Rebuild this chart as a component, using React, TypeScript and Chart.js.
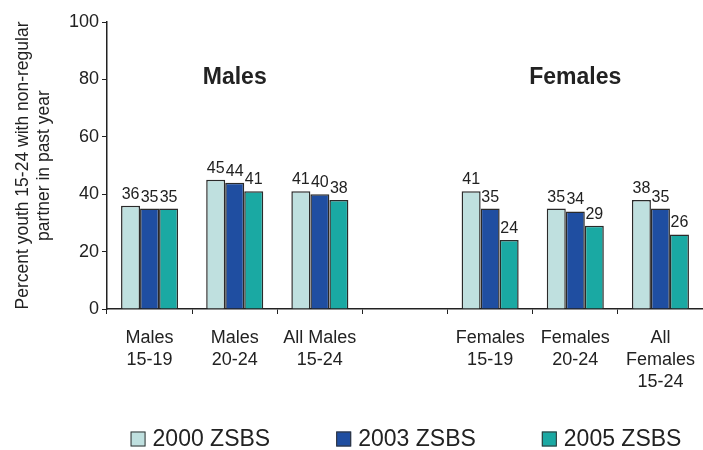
import React, { useEffect, useRef } from "react";
import { Chart, registerables } from "chart.js";

Chart.register(...registerables);

const categories: string[][] = [
  ["Males", "15-19"],
  ["Males", "20-24"],
  ["All Males", "15-24"],
  [""],
  ["Females", "15-19"],
  ["Females", "20-24"],
  ["All", "Females", "15-24"],
];

const series2000: (number | null)[] = [36, 45, 41, null, 41, 35, 38];
const series2003: (number | null)[] = [35, 44, 40, null, 35, 34, 35];
const series2005: (number | null)[] = [35, 41, 38, null, 24, 29, 26];

const seriesNames = ["2000 ZSBS", "2003 ZSBS", "2005 ZSBS"];
const seriesColors = ["#bfe0df", "#1f4ea1", "#1aa9a3"];

const groupLabels = [
  { text: "Males", category: 1, value: 80 },
  { text: "Females", category: 5, value: 80 },
];

const yTicks = [0, 20, 40, 60, 80, 100];
const yTitle = ["Percent youth 15-24 with non-regular", "partner in past year"];

const FONT = "'Liberation Sans', Arial, sans-serif";
const TEXT = "#222222";

const valueLabelPlugin = {
  id: "valueLabels",
  afterDatasetsDraw(chart: any) {
    const ctx = chart.ctx;
    ctx.save();
    ctx.font = `16px ${FONT}`;
    ctx.fillStyle = TEXT;
    ctx.textAlign = "center";
    ctx.textBaseline = "alphabetic";
    chart.data.datasets.forEach((ds: any, di: number) => {
      const meta = chart.getDatasetMeta(di);
      meta.data.forEach((el: any, i: number) => {
        const v = ds.data[i];
        if (v === null || v === undefined) return;
        ctx.fillText(String(v), el.x, el.y - 7);
      });
    });
    ctx.restore();
  },
};

const groupLabelPlugin = {
  id: "groupLabels",
  afterDatasetsDraw(chart: any) {
    const ctx = chart.ctx;
    const xs = chart.scales.x;
    const ys = chart.scales.y;
    ctx.save();
    ctx.font = `bold 23px ${FONT}`;
    ctx.fillStyle = TEXT;
    ctx.textAlign = "center";
    ctx.textBaseline = "middle";
    groupLabels.forEach((g) => {
      ctx.fillText(g.text, xs.getPixelForValue(g.category), ys.getPixelForValue(g.value) - 2);
    });
    ctx.restore();
  },
};

const bottomLegendPlugin = {
  id: "bottomLegend",
  afterDraw(chart: any) {
    const ctx = chart.ctx;
    const area = chart.chartArea;
    const box = 15;
    const gapBoxText = 7;
    const gapItems = 66;
    ctx.save();
    ctx.font = `23px ${FONT}`;
    ctx.textBaseline = "middle";
    ctx.textAlign = "left";
    const items = chart.data.datasets.map((ds: any) => ({
      text: ds.label,
      color: ds.backgroundColor,
      w: box + gapBoxText + ctx.measureText(ds.label).width,
    }));
    const total =
      items.reduce((s: number, it: any) => s + it.w, 0) + gapItems * (items.length - 1);
    let x = (area.left + area.right) / 2 + 1 - total / 2;
    const cy = 439;
    items.forEach((it: any) => {
      ctx.fillStyle = it.color;
      ctx.fillRect(x, cy - box / 2, box, box);
      ctx.strokeStyle = "#333333";
      ctx.lineWidth = 1;
      ctx.strokeRect(x + 0.5, cy - box / 2 + 0.5, box - 1, box - 1);
      ctx.fillStyle = TEXT;
      ctx.fillText(it.text, x + box + gapBoxText, cy + 1);
      x += it.w + gapItems;
    });
    ctx.restore();
  },
};

export default function App() {
  const canvasRef = useRef<HTMLCanvasElement | null>(null);

  useEffect(() => {
    if (!canvasRef.current) return;
    const data = [series2000, series2003, series2005];
    const chart = new Chart(canvasRef.current, {
      type: "bar",
      data: {
        labels: categories,
        datasets: data.map((d, i) => ({
          label: seriesNames[i],
          data: d,
          backgroundColor: seriesColors[i],
          borderColor: "#2a2a2a",
          borderWidth: 1.5,
          categoryPercentage: 0.67,
          barPercentage: 1,
        })),
      },
      options: {
        animation: false,
        responsive: false,
        layout: { padding: { top: 22, right: 0, bottom: 61, left: 0 } },
        plugins: {
          legend: { display: false },
          tooltip: { enabled: false },
        },
        scales: {
          x: {
            afterFit: (s: any) => {
              s.height = 80;
              s.paddingLeft = 0;
              s.paddingRight = 0;
            },
            grid: {
              offset: true,
              drawOnChartArea: false,
              drawTicks: true,
              tickLength: 5,
              color: "#222222",
            },
            border: { display: true, color: "#222222", width: 1.5 },
            ticks: {
              padding: 13,
              color: TEXT,
              font: { family: FONT, size: 18, lineHeight: 1.22 },
              maxRotation: 0,
              autoSkip: false,
            },
          },
          y: {
            min: 0,
            max: 100,
            afterFit: (s: any) => {
              s.width = 107;
            },
            afterBuildTicks: (s: any) => {
              s.ticks = yTicks.map((v) => ({ value: v }));
            },
            grid: {
              drawOnChartArea: false,
              drawTicks: true,
              tickLength: 5,
              color: "#222222",
            },
            border: { display: true, color: "#222222", width: 1.5 },
            ticks: {
              padding: 3,
              color: TEXT,
              font: { family: FONT, size: 18 },
            },
            title: {
              display: true,
              text: yTitle,
              color: TEXT,
              font: { family: FONT, size: 17.5, lineHeight: 1.2 },
              padding: { top: 13, bottom: 0 },
            },
          },
        },
      },
      plugins: [valueLabelPlugin, groupLabelPlugin, bottomLegendPlugin],
    });
    return () => chart.destroy();
  }, []);

  return (
    <div style={{ position: "absolute", left: 0, top: 0, width: 703, height: 450, background: "#fff" }}>
      <canvas ref={canvasRef} width={703} height={450} />
    </div>
  );
}
